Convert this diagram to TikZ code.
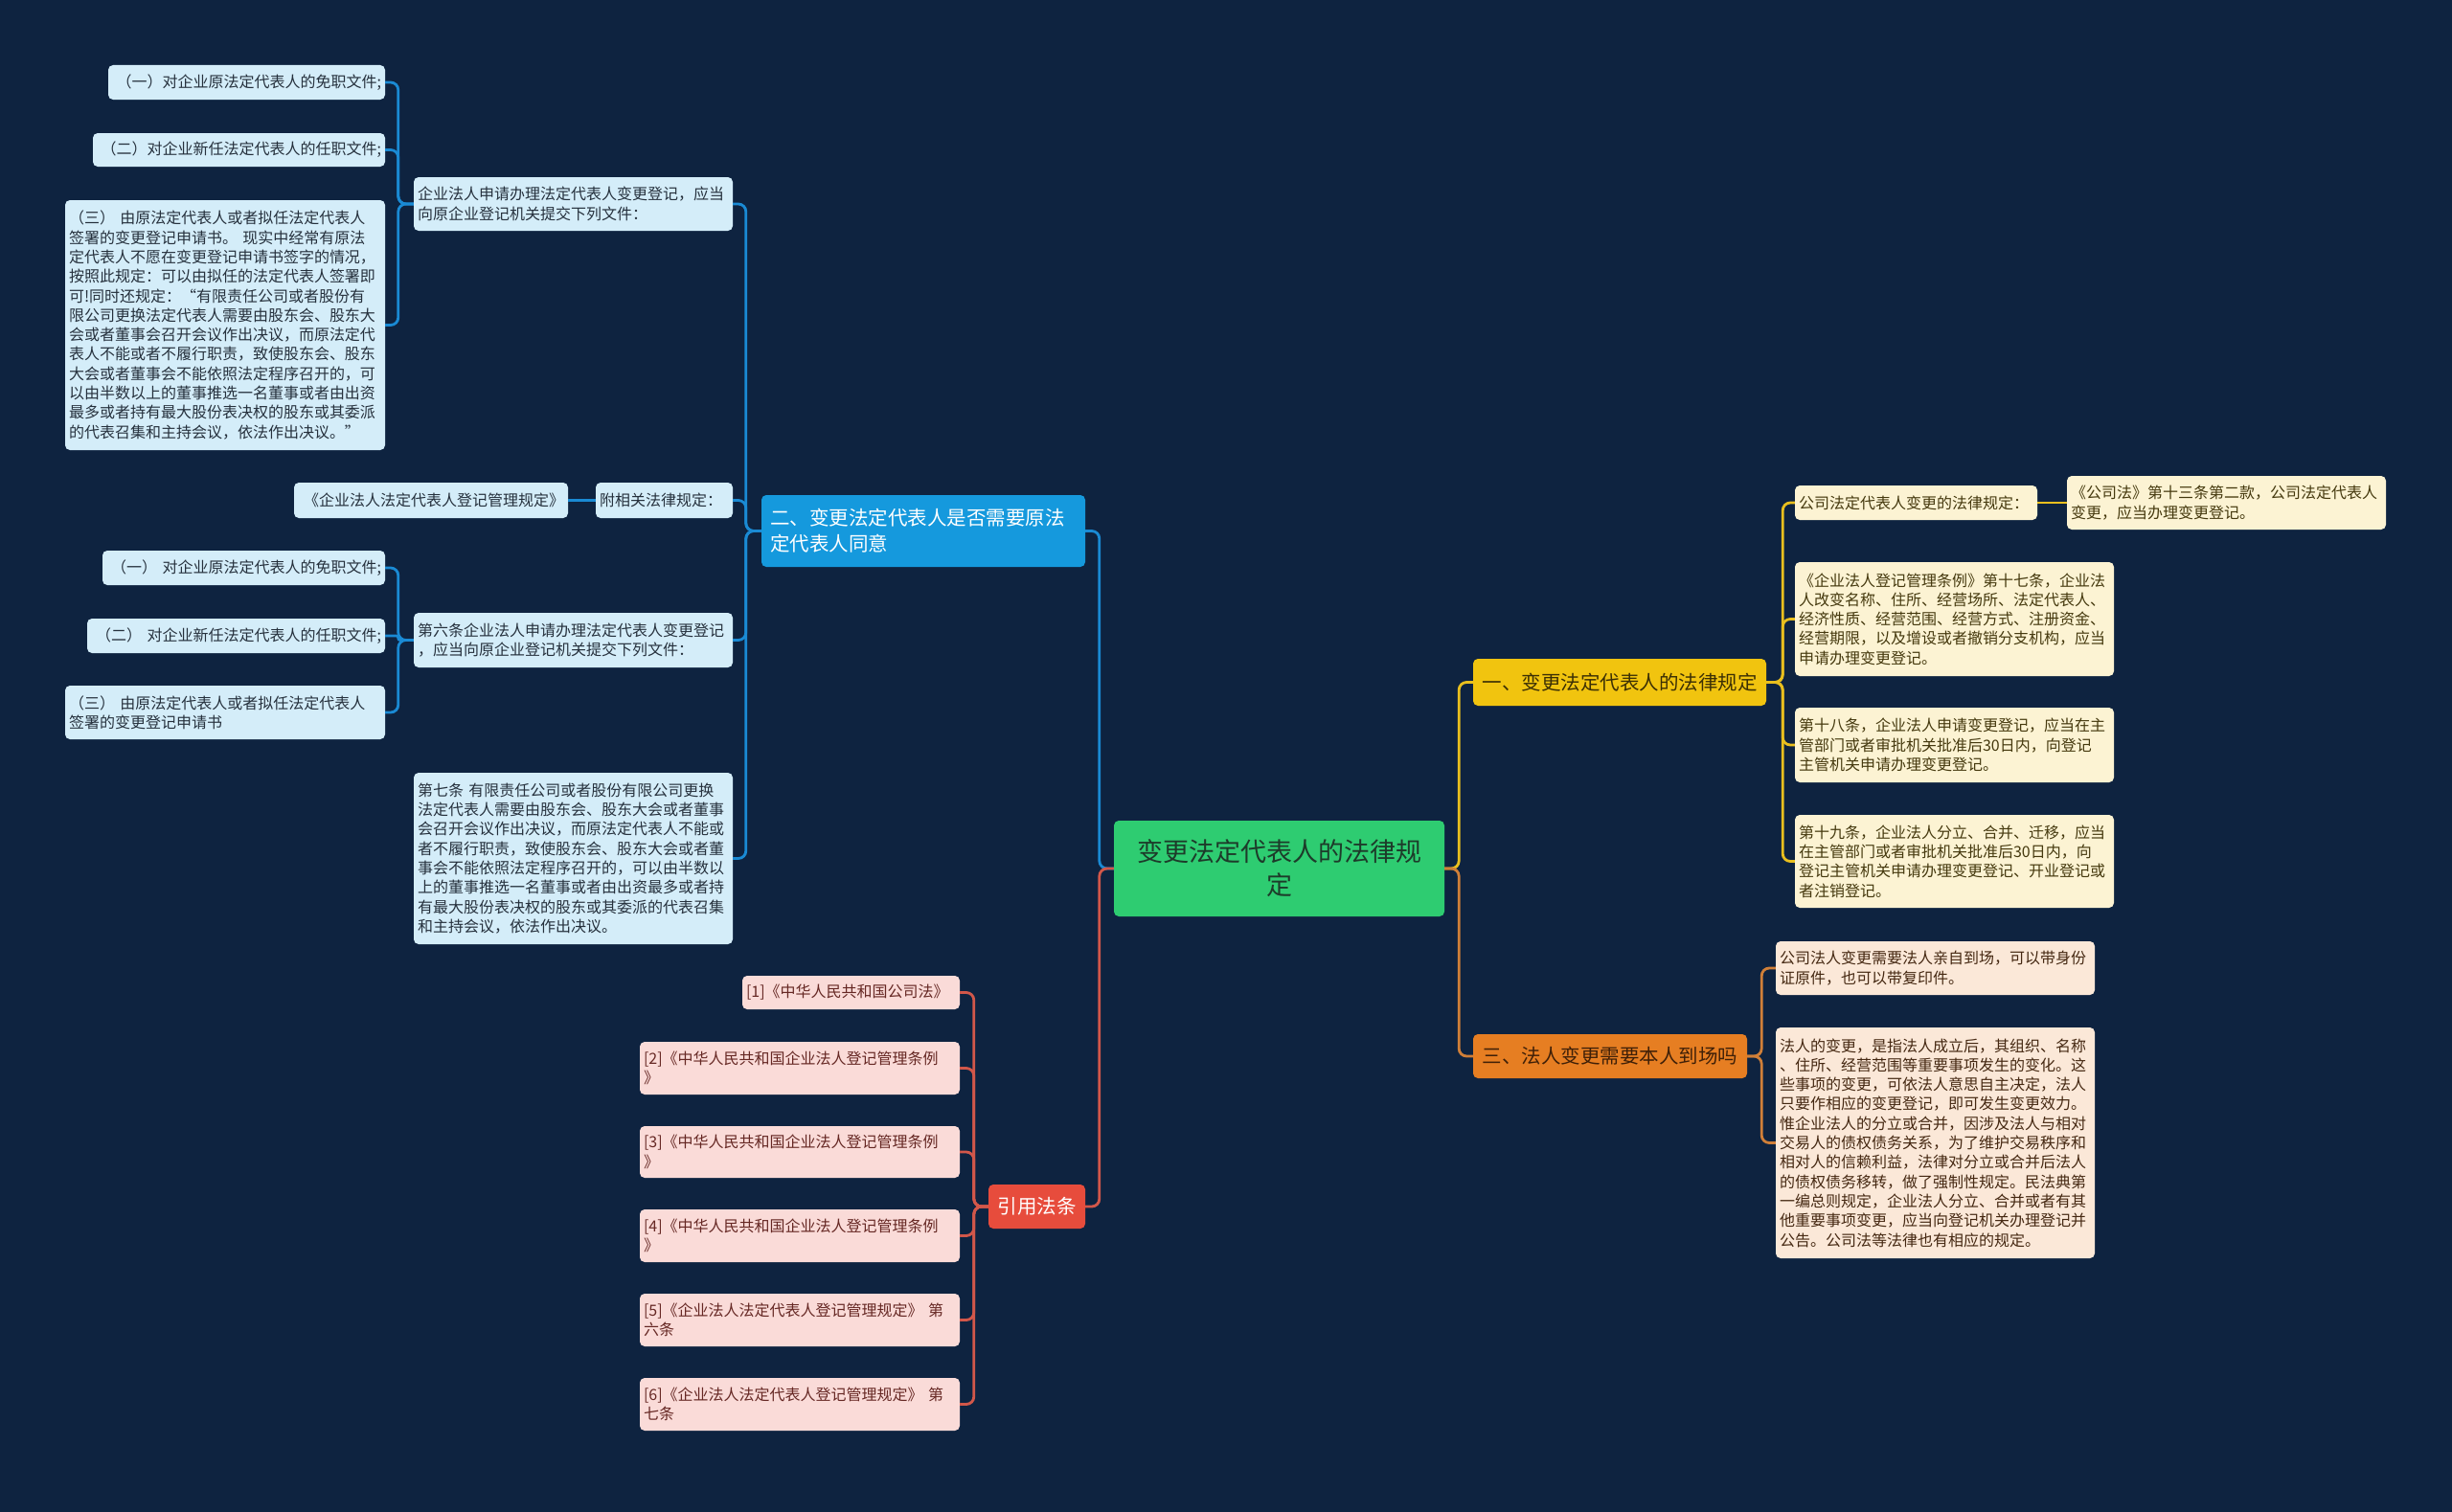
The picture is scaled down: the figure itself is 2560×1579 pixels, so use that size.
\documentclass[tikz,border=0pt]{standalone}
\usepackage{fontspec}
\setmainfont{Noto Sans CJK SC}
\definecolor{bg}{HTML}{0E2340}
\definecolor{cgreen}{HTML}{2ECC71}
\definecolor{tgreen}{HTML}{1D3B2A}
\definecolor{bBranch}{HTML}{1599DD}
\definecolor{bLeaf}{HTML}{D4EDF9}
\definecolor{bText}{HTML}{26313D}
\definecolor{bLine}{HTML}{1A8AD4}
\definecolor{yBranch}{HTML}{F1C40F}
\definecolor{yLeaf}{HTML}{FCF3D3}
\definecolor{yText}{HTML}{45390E}
\definecolor{yBText}{HTML}{3B2F05}
\definecolor{yLine}{HTML}{E9BF1E}
\definecolor{oBranch}{HTML}{E67E22}
\definecolor{oLeaf}{HTML}{FBE8D8}
\definecolor{oText}{HTML}{452812}
\definecolor{oBText}{HTML}{3F2008}
\definecolor{oLine}{HTML}{D07F38}
\definecolor{rBranch}{HTML}{E74C3C}
\definecolor{rLeaf}{HTML}{FADBD8}
\definecolor{rText}{HTML}{662824}
\definecolor{rLine}{HTML}{D2574A}
\newcommand{\putbox}[7]{%
  \pgfmathsetmacro{\cx}{(#3+#5)/2}%
  \pgfmathsetmacro{\cy}{(#4+#6)/2}%
  \pgfmathsetmacro{\ww}{#5-#3}%
  \pgfmathsetmacro{\hh}{#6-#4}%
  \pgfmathsetmacro{\tw}{#5-#3-8}%
  \node[minimum width=\ww pt, minimum height=\hh pt, text width=\tw pt, #2] (#1) at (\cx,\cy) {#7};}
\tikzset{
  boxbase/.style={rounded corners=5pt, inner xsep=4pt, inner ysep=0pt, align=left},
  leaf/.style={boxbase, font=\fontsize{16}{20.3}\selectfont},
  leafB/.style={leaf, fill=bLeaf, text=bText},
  leafY/.style={leaf, fill=yLeaf, text=yText},
  leafO/.style={leaf, fill=oLeaf, text=oText},
  leafR/.style={leaf, fill=rLeaf, text=rText},
  branch/.style={boxbase, align=center, font=\fontsize{20.5}{27}\selectfont},
  centernode/.style={boxbase, align=center, fill=cgreen, text=tgreen, font=\fontsize{27}{35}\selectfont},
  conn/.style={line width=2.8pt, rounded corners=8pt},
  connB/.style={conn, draw=bLine},
  connY/.style={conn, draw=yLine},
  connO/.style={conn, draw=oLine},
  connR/.style={conn, draw=rLine},
}
\begin{document}
\begin{tikzpicture}[x=1pt,y=-1pt]
\fill[bg] (0,0) rectangle (2560,1579);
\useasboundingbox (0,0) rectangle (2560,1579);

% center
\putbox{root}{centernode}{1163}{857}{1508}{957}{变更法定代表人的法律规\\定}

% blue branch
\putbox{bB}{branch, align=left, inner xsep=9pt, text width=320pt, fill=bBranch, text=white}{795}{517}{1133}{592}{二、变更法定代表人是否需要原法\\定代表人同意}
\putbox{a0}{leafB}{432}{185}{765}{241}{企业法人申请办理法定代表人变更登记，应当\\向原企业登记机关提交下列文件：}
\putbox{a1}{leafB, align=right}{113}{68}{402}{104}{（一）对企业原法定代表人的免职文件;}
\putbox{a2}{leafB, align=right}{97}{139}{402}{174}{（二）对企业新任法定代表人的任职文件;}
\putbox{a3}{leafB}{68}{209}{402}{470}{（三） 由原法定代表人或者拟任法定代表人\\签署的变更登记申请书。 现实中经常有原法\\定代表人不愿在变更登记申请书签字的情况，\\按照此规定：可以由拟任的法定代表人签署即\\可!同时还规定：“有限责任公司或者股份有\\限公司更换法定代表人需要由股东会、股东大\\会或者董事会召开会议作出决议，而原法定代\\表人不能或者不履行职责，致使股东会、股东\\大会或者董事会不能依照法定程序召开的，可\\以由半数以上的董事推选一名董事或者由出资\\最多或者持有最大股份表决权的股东或其委派\\的代表召集和主持会议，依法作出决议。”}
\putbox{b0}{leafB}{622}{504}{765}{541}{附相关法律规定：}
\putbox{b1}{leafB, align=right}{307}{504}{593}{541}{《企业法人法定代表人登记管理规定》}
\putbox{c0}{leafB}{432}{640}{765}{697}{第六条企业法人申请办理法定代表人变更登记\\，应当向原企业登记机关提交下列文件：}
\putbox{c1}{leafB, align=right}{107}{575}{402}{611}{（一） 对企业原法定代表人的免职文件;}
\putbox{c2}{leafB, align=right}{91}{646}{402}{682}{（二） 对企业新任法定代表人的任职文件;}
\putbox{c3}{leafB}{68}{716}{402}{772}{（三） 由原法定代表人或者拟任法定代表人\\签署的变更登记申请书}
\putbox{d0}{leafB}{432}{807}{765}{986}{第七条 有限责任公司或者股份有限公司更换\\法定代表人需要由股东会、股东大会或者董事\\会召开会议作出决议，而原法定代表人不能或\\者不履行职责，致使股东会、股东大会或者董\\事会不能依照法定程序召开的，可以由半数以\\上的董事推选一名董事或者由出资最多或者持\\有最大股份表决权的股东或其委派的代表召集\\和主持会议，依法作出决议。}

% yellow branch
\putbox{yB}{branch, fill=yBranch, text=yBText}{1538}{688}{1844}{737}{一、变更法定代表人的法律规定}
\putbox{y1}{leafY}{1874}{507}{2127}{543}{公司法定代表人变更的法律规定：}
\putbox{y1a}{leafY}{2158}{497}{2491}{553}{《公司法》第十三条第二款，公司法定代表人\\变更，应当办理变更登记。}
\putbox{y2}{leafY}{1874}{587}{2207}{706}{《企业法人登记管理条例》第十七条，企业法\\人改变名称、住所、经营场所、法定代表人、\\经济性质、经营范围、经营方式、注册资金、\\经营期限，以及增设或者撤销分支机构，应当\\申请办理变更登记。}
\putbox{y3}{leafY}{1874}{739}{2207}{817}{第十八条，企业法人申请变更登记，应当在主\\管部门或者审批机关批准后30日内，向登记\\主管机关申请办理变更登记。}
\putbox{y4}{leafY}{1874}{851}{2207}{948}{第十九条，企业法人分立、合并、迁移，应当\\在主管部门或者审批机关批准后30日内，向\\登记主管机关申请办理变更登记、开业登记或\\者注销登记。}

% orange branch
\putbox{oB}{branch, fill=oBranch, text=oBText}{1538}{1080}{1824}{1126}{三、法人变更需要本人到场吗}
\putbox{o1}{leafO}{1854}{983}{2187}{1039}{公司法人变更需要法人亲自到场，可以带身份\\证原件，也可以带复印件。}
\putbox{o2}{leafO}{1854}{1073}{2187}{1314}{法人的变更，是指法人成立后，其组织、名称\\、住所、经营范围等重要事项发生的变化。这\\些事项的变更，可依法人意思自主决定，法人\\只要作相应的变更登记，即可发生变更效力。\\惟企业法人的分立或合并，因涉及法人与相对\\交易人的债权债务关系，为了维护交易秩序和\\相对人的信赖利益，法律对分立或合并后法人\\的债权债务移转，做了强制性规定。民法典第\\一编总则规定，企业法人分立、合并或者有其\\他重要事项变更，应当向登记机关办理登记并\\公告。公司法等法律也有相应的规定。}

% red branch
\putbox{rB}{branch, fill=rBranch, text=white}{1032}{1237}{1133}{1283}{引用法条}
\putbox{r1}{leafR}{775}{1019}{1002}{1054}{[1]《中华人民共和国公司法》}
\putbox{r2}{leafR}{668}{1088}{1002}{1143}{[2]《中华人民共和国企业法人登记管理条例\\》}
\putbox{r3}{leafR}{668}{1176}{1002}{1230}{[3]《中华人民共和国企业法人登记管理条例\\》}
\putbox{r4}{leafR}{668}{1263}{1002}{1318}{[4]《中华人民共和国企业法人登记管理条例\\》}
\putbox{r5}{leafR}{668}{1351}{1002}{1406}{[5]《企业法人法定代表人登记管理规定》 第\\六条}
\putbox{r6}{leafR}{668}{1439}{1002}{1494}{[6]《企业法人法定代表人登记管理规定》 第\\七条}

% connectors: root
\draw[connB] (root.west) -- ++(-15,0) |- (bB.east);
\draw[connR] (root.west) -- ++(-15,0) |- (rB.east);
\draw[connY] (root.east) -- ++(15,0) |- (yB.west);
\draw[connO] (root.east) -- ++(15,0) |- (oB.west);

% blue
\foreach \c in {a0,b0,c0,d0} \draw[connB] (bB.west) -- ++(-16,0) |- (\c.east);
\foreach \c in {a1,a2,a3} \draw[connB] (a0.west) -- ++(-16,0) |- (\c.east);
\draw[connB] (b0.west) -- (b1.east);
\foreach \c in {c1,c3} \draw[connB] (c0.west) -- ++(-16,0) |- (\c.east);
\draw[connB, rounded corners=2pt] (c0.west) -- ++(-16,0) |- (c2.east);

% yellow
\draw[connY] (y1.east) -- (y1a.west);
\foreach \c in {y1,y2,y3,y4} \draw[connY] (yB.east) -- ++(17,0) |- (\c.west);

% orange
\foreach \c in {o1,o2} \draw[connO] (oB.east) -- ++(15,0) |- (\c.west);

% red
\foreach \c in {r1,r2,r3,r4,r5,r6} \draw[connR] (rB.west) -- ++(-15,0) |- (\c.east);
\end{tikzpicture}
\end{document}
